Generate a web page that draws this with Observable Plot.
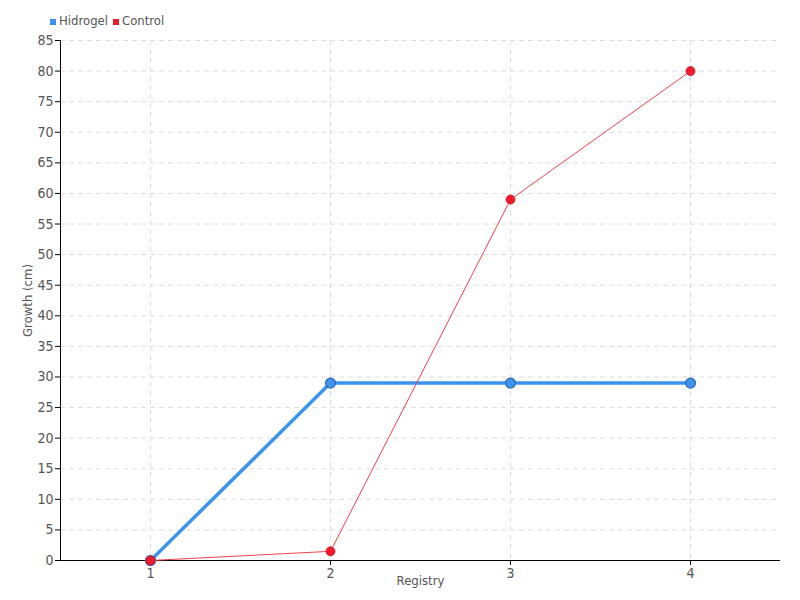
<!DOCTYPE html>
<html><head><meta charset="utf-8">
<script src="https://cdn.jsdelivr.net/npm/d3@7"></script>
<script src="https://cdn.jsdelivr.net/npm/@observablehq/plot@0.6"></script>
<style>
body{margin:0;background:#fff;font-family:"DejaVu Sans Condensed","DejaVu Sans",sans-serif;font-stretch:condensed;}
#legend{height:32px;position:relative;font-size:13px;color:#555;}
.item{position:absolute;top:13px;display:flex;align-items:center;}
.sw{width:6px;height:6px;margin-right:3px;margin-top:2px;}
svg text{font-stretch:condensed;}
</style></head><body>
<div id="legend"></div>
<div id="chart"></div>
<script>
const registry = [1, 2, 3, 4];
const hidrogel = [0, 29, 29, 29];
const control = [0, 1.5, 59, 80];
const seriesNames = ["Hidrogel", "Control"];
const seriesColors = ["#3d94f0", "#ee1c2a"];
const yTicks = d3.range(0, 90, 5);

const hData = registry.map((r, i) => ({x: r, y: hidrogel[i]}));
const cData = registry.map((r, i) => ({x: r, y: control[i]}));

const leg = document.getElementById("legend");
let lx = 50;
seriesNames.forEach((n, i) => {
  const d = document.createElement("div");
  d.className = "item";
  d.style.left = lx + "px";
  d.innerHTML = `<span class="sw" style="background:${seriesColors[i]}"></span><span>${n}</span>`;
  leg.appendChild(d);
  lx += (i === 0 ? 63 : 70);
});

const chart = Plot.plot({
  width: 800,
  height: 568,
  marginTop: 8,
  marginBottom: 40,
  marginLeft: 60,
  marginRight: 20,
  style: {fontFamily: '"DejaVu Sans Condensed","DejaVu Sans",sans-serif', fontSize: "13px", color: "#555"},
  x: {domain: [0.5, 4.5], label: null},
  y: {domain: [0, 85], label: null},
  marks: [
    Plot.gridY(yTicks, {stroke: "#ddd", strokeOpacity: 1, strokeDasharray: "5,4"}),
    Plot.gridX(registry, {stroke: "#ddd", strokeOpacity: 1, strokeDasharray: "5,4"}),
    Plot.axisY(yTicks, {tickSize: 5, tickPadding: 2, fontSize: 14, stroke: "#000", tickFormat: d => String(d), label: null}),
    Plot.axisX(registry, {tickSize: 5, tickPadding: 3, fontSize: 14, stroke: "#000", tickFormat: d => String(d), label: null}),
    Plot.ruleX([0.5], {stroke: "#000"}),
    Plot.ruleY([0], {stroke: "#000"}),
    Plot.line(hData, {x: "x", y: "y", stroke: seriesColors[0], strokeWidth: 3.5}),
    Plot.dot(hData, {x: "x", y: "y", r: 5, fill: "#3f93ea", stroke: "#2a68b8", strokeWidth: 1.2}),
    Plot.line(cData, {x: "x", y: "y", stroke: "#f0404f", strokeWidth: 1}),
    Plot.dot(cData, {x: "x", y: "y", r: 4.5, fill: seriesColors[1], stroke: "#d01020", strokeWidth: 0.8}),
    Plot.text(["Growth (cm)"], {frameAnchor: "left", textAnchor: "middle", dx: -33, rotate: -90, fontSize: 13, fill: "#555"}),
    Plot.text(["Registry"], {frameAnchor: "bottom", dy: 24, fontSize: 13, fill: "#555"})
  ]
});
document.getElementById("chart").appendChild(chart);
</script>
</body></html>
